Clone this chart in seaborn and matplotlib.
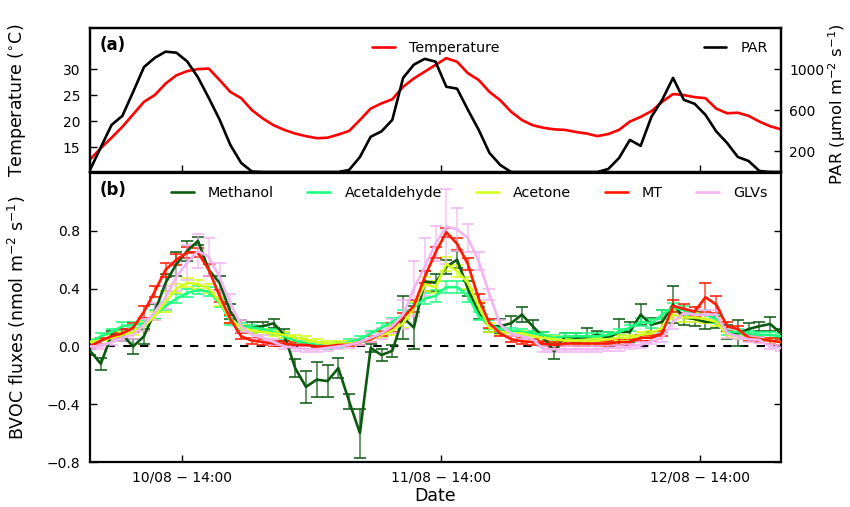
import numpy as np
import matplotlib
matplotlib.use("Agg")
import matplotlib.pyplot as plt
import seaborn as sns

# ---------------- data ----------------
hours = np.arange(5.5, 70.0, 1.0)  # hours since 10/08 00:00 (hourly, at :30)

temperature = [12.6, 14.8, 16.8, 18.9, 21.3, 23.7, 25.0, 27.2, 28.8, 29.6,
               30.0, 30.1, 27.9, 25.6, 24.4, 22.1, 20.5, 19.2, 18.3, 17.6,
               17.1, 16.7, 16.8, 17.4, 18.1, 20.2, 22.4, 23.4, 24.2, 26.6,
               28.2, 29.5, 30.8, 32.1, 31.4, 29.2, 27.9, 25.6, 24.0, 21.8,
               20.2, 19.2, 18.7, 18.4, 18.3, 17.9, 17.6, 17.1, 17.5, 18.3,
               19.9, 20.8, 21.9, 23.7, 25.2, 25.0, 24.6, 24.4, 22.4, 21.5,
               21.6, 21.0, 19.9, 19.0, 18.4]

par = [20, 240, 458, 546, 780, 1020, 1110, 1170, 1160, 1075,
       920, 720, 510, 263, 88, 5,
       0, 0, 0, 0, 0, 0, 0,
       0, 20, 146, 343, 395, 507, 915, 1044, 1100, 1073,
       829, 810, 605, 410, 185, 68, 0,
       0, 0, 0, 0, 0, 0, 0,
       0, 29, 136, 312, 254, 537, 702, 915, 702, 663,
       556, 395, 283, 146, 107, 10, 0, 0]

methanol = [-0.03, -0.12, 0.08, 0.08, 0.00, 0.07, 0.24, 0.44, 0.57, 0.66,
            0.73, 0.53, 0.44, 0.24, 0.14, 0.13, 0.14, 0.16, 0.08, -0.15,
            -0.28, -0.23, -0.24, -0.15, -0.38, -0.60, -0.01, -0.06, -0.03, 0.20,
            0.13, 0.45, 0.44, 0.55, 0.60, 0.40, 0.23, 0.14, 0.14, 0.16,
            0.22, 0.14, 0.06, -0.035, 0.07, 0.06, 0.065, 0.08, 0.06, 0.10,
            0.10, 0.22, 0.15, 0.17, 0.29, 0.20, 0.19, 0.17, 0.17, 0.10,
            0.09, 0.12, 0.14, 0.155, 0.09]
methanol_err = [0.03, 0.04, 0.03, 0.04, 0.05, 0.05, 0.05, 0.06, 0.08, 0.07,
                0.03, 0.04, 0.05, 0.05, 0.04, 0.04, 0.03, 0.03, 0.04, 0.06,
                0.11, 0.12, 0.11, 0.07, 0.05, 0.17, 0.03, 0.04, 0.04, 0.15,
                0.15, 0.07, 0.06, 0.05, 0.06, 0.05, 0.04, 0.04, 0.05, 0.05,
                0.05, 0.04, 0.04, 0.05, 0.02, 0.03, 0.06, 0.03, 0.04, 0.09,
                0.07, 0.07, 0.05, 0.08, 0.13, 0.05, 0.05, 0.05, 0.04, 0.05,
                0.09, 0.04, 0.03, 0.05, 0.03]

acetaldehyde = [0.03, 0.07, 0.10, 0.14, 0.15, 0.16, 0.22, 0.28, 0.33, 0.37,
                0.39, 0.38, 0.30, 0.18, 0.14, 0.13, 0.12, 0.10, 0.07, 0.04,
                0.02, 0.01, 0.00, 0.01, 0.03, 0.05, 0.09, 0.13, 0.17, 0.22,
                0.27, 0.33, 0.35, 0.41, 0.41, 0.35, 0.21, 0.15, 0.12, 0.11,
                0.10, 0.09, 0.08, 0.06, 0.07, 0.07, 0.07, 0.07, 0.08, 0.10,
                0.13, 0.17, 0.16, 0.22, 0.27, 0.25, 0.22, 0.22, 0.19, 0.10,
                0.10, 0.09, 0.08, 0.08, 0.07]
acetaldehyde_err = [0.02, 0.02, 0.02, 0.03, 0.02, 0.02, 0.03, 0.03, 0.03, 0.03,
                    0.03, 0.03, 0.03, 0.03, 0.02, 0.02, 0.02, 0.02, 0.02, 0.02,
                    0.02, 0.02, 0.02, 0.02, 0.02, 0.02, 0.02, 0.03, 0.03, 0.03,
                    0.03, 0.04, 0.04, 0.04, 0.04, 0.04, 0.03, 0.03, 0.02, 0.02,
                    0.02, 0.02, 0.02, 0.02, 0.02, 0.02, 0.02, 0.02, 0.02, 0.02,
                    0.02, 0.03, 0.03, 0.03, 0.03, 0.03, 0.03, 0.03, 0.03, 0.02,
                    0.02, 0.02, 0.02, 0.02, 0.02]

acetone = [0.03, 0.04, 0.06, 0.08, 0.10, 0.14, 0.21, 0.31, 0.40, 0.44,
           0.43, 0.40, 0.31, 0.19, 0.13, 0.11, 0.10, 0.09, 0.08, 0.06,
           0.05, 0.03, 0.02, 0.02, 0.02, 0.03, 0.05, 0.08, 0.11, 0.16,
           0.27, 0.43, 0.41, 0.57, 0.52, 0.44, 0.28, 0.13, 0.10, 0.09,
           0.09, 0.07, 0.06, 0.05, 0.04, 0.04, 0.04, 0.04, 0.05, 0.06,
           0.06, 0.08, 0.09, 0.13, 0.22, 0.20, 0.20, 0.19, 0.17, 0.08,
           0.07, 0.06, 0.05, 0.04, 0.03]
acetone_err = [0.02, 0.02, 0.02, 0.02, 0.02, 0.03, 0.03, 0.07, 0.03, 0.03,
               0.03, 0.03, 0.03, 0.03, 0.02, 0.02, 0.02, 0.02, 0.02, 0.02,
               0.02, 0.02, 0.02, 0.02, 0.02, 0.02, 0.02, 0.02, 0.03, 0.03,
               0.04, 0.05, 0.04, 0.05, 0.04, 0.04, 0.03, 0.03, 0.02, 0.02,
               0.02, 0.02, 0.02, 0.02, 0.02, 0.02, 0.02, 0.02, 0.02, 0.02,
               0.02, 0.02, 0.02, 0.03, 0.03, 0.03, 0.03, 0.03, 0.03, 0.02,
               0.02, 0.02, 0.02, 0.02, 0.02]

mt = [0.00, 0.04, 0.07, 0.09, 0.13, 0.24, 0.38, 0.53, 0.60, 0.65,
      0.65, 0.53, 0.35, 0.19, 0.07, 0.04, 0.03, 0.02, 0.02, 0.01,
      0.01, 0.00, 0.00, 0.01, 0.01, 0.03, 0.05, 0.09, 0.13, 0.20,
      0.28, 0.48, 0.65, 0.79, 0.71, 0.57, 0.33, 0.16, 0.09, 0.05,
      0.035, 0.03, 0.02, 0.01, 0.02, 0.02, 0.02, 0.02, 0.02, 0.03,
      0.03, 0.06, 0.06, 0.09, 0.28, 0.26, 0.24, 0.34, 0.29, 0.14,
      0.12, 0.06, 0.05, 0.04, 0.03]
mt_err = [0.02, 0.02, 0.02, 0.03, 0.03, 0.04, 0.04, 0.05, 0.04, 0.04,
          0.03, 0.04, 0.04, 0.03, 0.02, 0.02, 0.02, 0.02, 0.02, 0.02,
          0.01, 0.01, 0.01, 0.01, 0.01, 0.02, 0.02, 0.02, 0.03, 0.03,
          0.04, 0.04, 0.04, 0.03, 0.04, 0.04, 0.03, 0.03, 0.02, 0.02,
          0.02, 0.02, 0.02, 0.02, 0.02, 0.02, 0.02, 0.02, 0.02, 0.02,
          0.02, 0.02, 0.02, 0.02, 0.04, 0.03, 0.03, 0.10, 0.06, 0.03,
          0.02, 0.02, 0.02, 0.02, 0.02]

glvs = [0.00, 0.00, 0.03, 0.06, 0.08, 0.15, 0.24, 0.34, 0.48, 0.58,
        0.66, 0.62, 0.48, 0.30, 0.14, 0.08, 0.06, 0.03, 0.00, -0.01,
        -0.02, -0.02, -0.01, 0.00, 0.01, 0.03, 0.06, 0.09, 0.14, 0.22,
        0.40, 0.55, 0.71, 0.83, 0.81, 0.75, 0.59, 0.36, 0.15, 0.09,
        0.07, 0.05, -0.02, -0.02, -0.02, -0.02, -0.02, -0.02, -0.01, -0.01,
        0.00, 0.01, 0.035, 0.06, 0.17, 0.23, 0.22, 0.22, 0.22, 0.09,
        0.07, 0.05, 0.045, 0.00, -0.01]
glvs_err = [0.02, 0.02, 0.02, 0.02, 0.03, 0.04, 0.06, 0.08, 0.10, 0.12,
            0.12, 0.13, 0.10, 0.06, 0.04, 0.03, 0.02, 0.02, 0.02, 0.02,
            0.02, 0.02, 0.02, 0.02, 0.02, 0.02, 0.03, 0.04, 0.05, 0.10,
            0.19, 0.20, 0.12, 0.26, 0.15, 0.10, 0.06, 0.04, 0.03, 0.02,
            0.02, 0.02, 0.02, 0.02, 0.02, 0.02, 0.02, 0.02, 0.02, 0.02,
            0.02, 0.02, 0.02, 0.03, 0.05, 0.03, 0.03, 0.03, 0.03, 0.03,
            0.02, 0.02, 0.02, 0.02, 0.02]

series_names = ["Methanol", "Acetaldehyde", "Acetone", "MT", "GLVs"]
series_values = [methanol, acetaldehyde, acetone, mt, glvs]
series_errors = [methanol_err, acetaldehyde_err, acetone_err, mt_err, glvs_err]
series_colors = ["#0c5a10", "#1cff80", "#d4ff1c", "#ff1a00", "#f2b4f2"]

tick_hours = [14, 38, 62]
tick_labels = ["10/08 \u2212 14:00", "11/08 \u2212 14:00", "12/08 \u2212 14:00"]

# ---------------- style ----------------
sns.set_style("ticks")
plt.rcParams.update({
    "font.family": ["DejaVu Sans"],
    "mathtext.default": "regular",
    "xtick.direction": "in", "ytick.direction": "in",
    "xtick.major.size": 5, "ytick.major.size": 5,
    "xtick.major.width": 1.0, "ytick.major.width": 1.0,
    "axes.linewidth": 1.6, "axes.edgecolor": "black",
    "xtick.color": "black", "ytick.color": "black",
    "text.color": "black", "axes.labelcolor": "black",
    "xtick.labelsize": 10, "ytick.labelsize": 10,
})

W, H = 850, 507
fig = plt.figure(figsize=(8.5, 5.07), dpi=100)
L, R = 90, 781
ax1 = fig.add_axes([L / W, 1 - 172 / H, (R - L) / W, (172 - 28) / H])
ax2 = fig.add_axes([L / W, 1 - 462 / H, (R - L) / W, (462 - 173) / H])

# ---------------- panel (a) ----------------
sns.lineplot(x=hours, y=temperature, ax=ax1, color="red", lw=1.9,
             label="Temperature", errorbar=None)
ax1.set_xlim(5.5, 69.5)
ax1.set_ylim(10.2, 37.9)
ax1.set_yticks([15, 20, 25, 30])
ax1.set_xticks(tick_hours)
ax1.set_xticklabels([])
ax1.tick_params(axis="y", pad=7)
ax1.set_ylabel("Temperature ($^{\\circ}$C)", fontsize=12.5)
ax1.yaxis.set_label_coords(-0.09, 0.5)
ax1.set_xlabel("")
ax1.legend(loc="upper center", frameon=False, fontsize=10.3, handlelength=1.6,
           handletextpad=1.0)

ax1b = ax1.twinx()
sns.lineplot(x=hours, y=par, ax=ax1b, color="black", lw=1.9, label="PAR",
             errorbar=None)
ax1b.set_ylim(0, 1400)
ax1b.set_yticks([200, 600, 1000])
ax1b.tick_params(axis="y", pad=6)
ax1b.set_ylabel("PAR (\u00b5mol m$^{-2}$ s$^{-1}$)", fontsize=11.8)
ax1b.yaxis.set_label_coords(1.066, 0.47)
ax1b.legend(loc="upper right", frameon=False, fontsize=10.3, handlelength=1.6,
            handletextpad=1.0)
ax1.text(0.014, 0.88, "(a)", transform=ax1.transAxes, fontsize=12,
         fontweight="bold", va="center")

# ---------------- panel (b) ----------------
ax2.axhline(0, color="black", ls="--", lw=1.5, dashes=(4, 4), zorder=1)
for name, vals, errs, col in zip(series_names, series_values, series_errors,
                                 series_colors):
    ax2.errorbar(hours, vals, yerr=errs, fmt="none", ecolor=col,
                 elinewidth=1.1, capsize=4, capthick=1.4, alpha=0.8, zorder=2)
    sns.lineplot(x=hours, y=vals, ax=ax2, color=col, lw=1.9, label=name,
                 errorbar=None, zorder=3)

ax2.set_xlim(5.5, 69.5)
ax2.set_ylim(-0.8, 1.2)
ax2.set_yticks([-0.8, -0.4, 0.0, 0.4, 0.8])
ax2.set_yticklabels(["\u22120.8", "\u22120.4", "0.0", "0.4", "0.8"])
ax2.set_xticks(tick_hours)
ax2.set_xticklabels(tick_labels)
ax2.tick_params(axis="y", right=True, pad=7)
ax2.tick_params(axis="x", pad=6)
ax2.set_xlabel("Date", fontsize=12.5, labelpad=2)
ax2.set_ylabel("BVOC fluxes (nmol m$^{-2}$ s$^{-1}$)", fontsize=12.5)
ax2.yaxis.set_label_coords(-0.09, 0.5)
ax2.legend(loc="upper right", ncol=5, frameon=False, fontsize=10.3,
           handlelength=1.6, handletextpad=1.0, columnspacing=2.35)
ax2.text(0.014, 0.941, "(b)", transform=ax2.transAxes, fontsize=12,
         fontweight="bold", va="center")

fig.savefig("out.png", dpi=100)
